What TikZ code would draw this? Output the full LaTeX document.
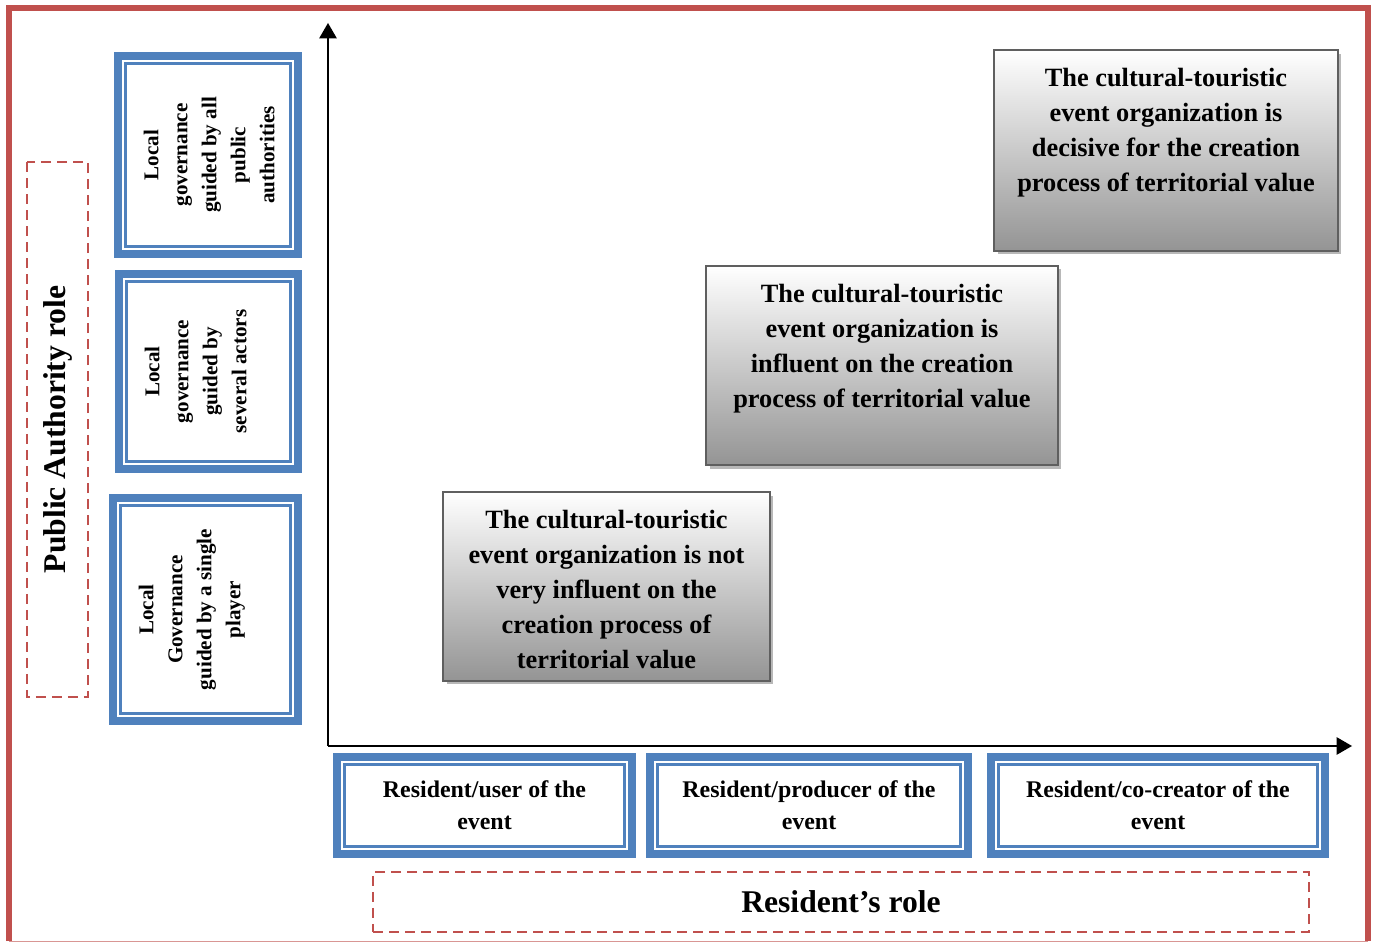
\documentclass[tikz,border=0pt]{standalone}
\usepackage{fontspec}
\setmainfont{Liberation Serif}
\usepackage{tikz}
\usetikzlibrary{arrows,positioning,shadows}

\definecolor{framered}{HTML}{C0504D}
\definecolor{boxblue}{HTML}{4F81BD}
\definecolor{boxgrey}{HTML}{5F5F5F}

\begin{document}
\begin{tikzpicture}[x=0.02cm, y=-0.02cm,
  bluebox/.style={draw=boxblue, line width=0.16cm, fill=white, inner sep=0pt,
    path picture={\draw[boxblue, line width=1.2pt]
      ([shift={(0.15cm,0.15cm)}]path picture bounding box.south west) rectangle
      ([shift={(-0.15cm,-0.15cm)}]path picture bounding box.north east);}},
  greybox/.style={draw=boxgrey, line width=0.04cm, top color=white, bottom color=black!42,
    drop shadow={shadow xshift=0.07cm, shadow yshift=-0.07cm, fill=black!28, opacity=1}},
  greytext/.style={font=\fontsize{15}{19.9}\selectfont\bfseries, align=center, inner sep=0pt},
  bluetext/.style={font=\fontsize{13.6}{18.2}\selectfont\bfseries, align=center},
  sidetext/.style={font=\fontsize{12}{16.5}\selectfont\bfseries, align=center, inner sep=0pt,
    rotate=90, anchor=north},
  rolebox/.style={draw=framered, line width=0.05cm, dash pattern=on 0.2cm off 0.12cm,
    font=\fontsize{18}{22}\selectfont\bfseries, inner sep=0pt}]
\useasboundingbox (0,0) rectangle (1374,942);

% outer frame
\draw[framered, line width=0.12cm] (9,941) -- (9,8) -- (1368,8) -- (1368,941);
\draw[framered!60, line width=0.5pt] (9,941) -- (1368,941);

% role labels
\node[rolebox, minimum width=10.7cm, minimum height=1.22cm, rotate=90] (pa) at (57.5,429.5) {Public Authority role};
\node[rolebox, minimum width=18.72cm, minimum height=1.2cm] (rr) at (841,902) {Resident’s role};

% axes
\coordinate (o) at (328,746);
\coordinate (ytop) at (328,23);
\coordinate (xend) at (1352,746);
\draw[line width=0.05cm, -triangle 60] (o) -- (ytop);
\draw[line width=0.05cm, -triangle 60] (o) -- (xend);

% public authority levels
\node[bluebox, minimum width=3.6cm, minimum height=3.96cm] (pa1) at (208,155) {};
\node[bluebox, minimum width=3.58cm, minimum height=3.9cm] (pa2) at (208.5,371.5) {};
\node[bluebox, minimum width=3.7cm, minimum height=4.46cm] (pa3) at (205.5,609.5) {};
\node[sidetext] (t1) at ([xshift=0.59cm]pa1.west) {Local\\governance\\guided by all\\public\\authorities};
\node[sidetext] (t2) at ([xshift=0.59cm]pa2.west) {Local\\governance\\guided by\\several actors};
\node[sidetext] (t3) at ([xshift=0.59cm]pa3.west) {Local\\Governance\\guided by a single\\player};

% resident levels
\node[bluebox, bluetext, minimum width=5.9cm, minimum height=1.94cm] (r1) at (484.5,805.5) {Resident/user of the\\event};
\node[bluebox, bluetext, minimum width=6.36cm, minimum height=1.94cm] (r2) at (809,805.5) {Resident/producer of the\\event};
\node[bluebox, bluetext, minimum width=6.68cm, minimum height=1.94cm] (r3) at (1158,805.5) {Resident/co-creator of the\\event};

% event organization
\node[greybox, minimum width=6.54cm, minimum height=3.78cm] (g1) at (606.5,586.5) {};
\node[greybox, minimum width=7.04cm, minimum height=4cm] (g2) at (882,365.5) {};
\node[greybox, minimum width=6.88cm, minimum height=4.02cm] (g3) at (1166,150.5) {};
\node[greytext, below=0.38cm of g1.north] (e1) {The cultural-touristic\\event organization is not\\very influent on the\\creation process of\\territorial value};
\node[greytext, below=0.38cm of g2.north] (e2) {The cultural-touristic\\event organization is\\influent on the creation\\process of territorial value};
\node[greytext, below=0.38cm of g3.north] (e3) {The cultural-touristic\\event organization is\\decisive for the creation\\process of territorial value};
\end{tikzpicture}
\end{document}
